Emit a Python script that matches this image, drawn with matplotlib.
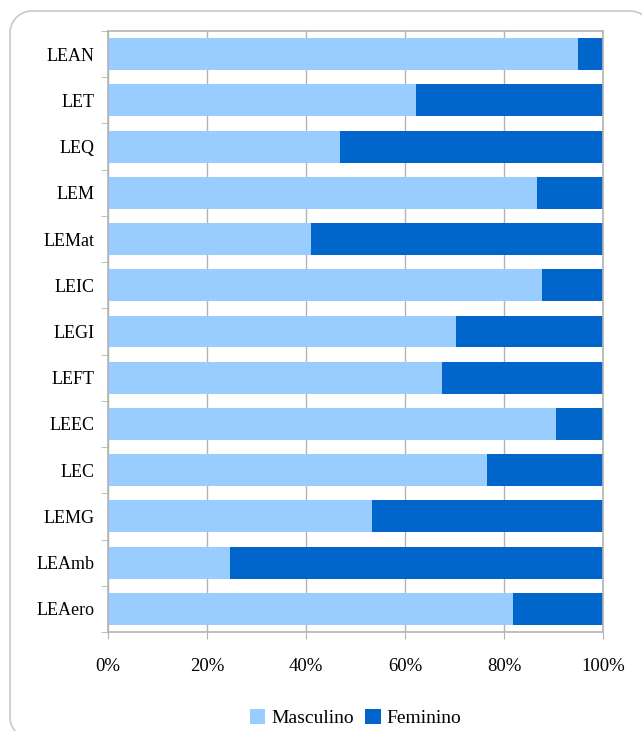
import matplotlib.pyplot as plt
from matplotlib.patches import Patch, PathPatch
from matplotlib.path import Path
from matplotlib.ticker import FuncFormatter
from matplotlib.transforms import IdentityTransform
import numpy as np

LIGHT = "#99CCFF"
DARK = "#0066CC"
GRID = "#B3B3B3"

plt.rcParams["font.family"] = ["Liberation Serif", "DejaVu Serif"]

# data (top to bottom)
categories = ["LEAN", "LET", "LEQ", "LEM", "LEMat", "LEIC", "LEGI",
              "LEFT", "LEEC", "LEC", "LEMG", "LEAmb", "LEAero"]
masculino = [95.0, 62.2, 46.9, 86.7, 41.0, 87.7, 70.3,
             67.5, 90.5, 76.6, 53.3, 24.6, 81.8]
feminino = [100 - m for m in masculino]

fig = plt.figure(figsize=(6.42, 7.31), dpi=100)

# rounded outer frame in pixel coords (right and bottom run off the canvas)
r = 22
L, T, R, B = 10, 720, 652, -8
t = np.linspace(0, np.pi / 2, 20)
pts = [(R - r + r * np.cos(a), T - r + r * np.sin(a)) for a in t]               # top-right arc
pts += [(L + r + r * np.cos(a), T - r + r * np.sin(a)) for a in t + np.pi / 2]  # top-left arc
pts += [(L + r + r * np.cos(a), B + r + r * np.sin(a)) for a in t + np.pi]      # bottom-left arc
frame = PathPatch(Path(pts), transform=IdentityTransform(), facecolor="none",
                  edgecolor="#C8C8C8", lw=1.2, zorder=-1)
fig.patches.append(frame)

ax = fig.add_axes([108 / 642, 1 - 632 / 731, 495 / 642, 601 / 731])
ax.set_facecolor("none")

y = np.arange(len(categories))
ax.barh(y, masculino, height=0.69, color=LIGHT, label="Masculino", zorder=2)
ax.barh(y, feminino, left=masculino, height=0.69, color=DARK,
        label="Feminino", zorder=2)

ax.set_xlim(0, 100)
ax.set_ylim(len(categories) - 0.5, -0.5)
ax.set_xticks(np.arange(0, 101, 20))
ax.xaxis.set_major_formatter(FuncFormatter(lambda v, p: f"{int(v)}%"))
ax.set_yticks(y)
ax.set_yticklabels(categories)
ax.set_yticks(np.arange(-0.5, len(categories), 1), minor=True)

ax.tick_params(axis="y", which="major", length=0, pad=9.5, labelsize=13)
ax.tick_params(axis="y", which="minor", length=5, color=GRID)
ax.tick_params(axis="x", length=5, color=GRID, pad=14, labelsize=13.5)

ax.grid(axis="x", color=GRID, lw=1, zorder=1)
ax.set_axisbelow(True)
for s in ax.spines.values():
    s.set_color(GRID)
    s.set_linewidth(1.2)

handles = [Patch(facecolor=LIGHT, label="Masculino"),
           Patch(facecolor=DARK, label="Feminino")]
fig.legend(handles=handles, loc="center", bbox_to_anchor=(355.5 / 642, 1 - 718 / 731),
           ncol=2, frameon=False, fontsize=14, handlelength=0.8, handleheight=0.8,
           handletextpad=0.3, columnspacing=0.6)

fig.savefig("out.png", dpi=100)
